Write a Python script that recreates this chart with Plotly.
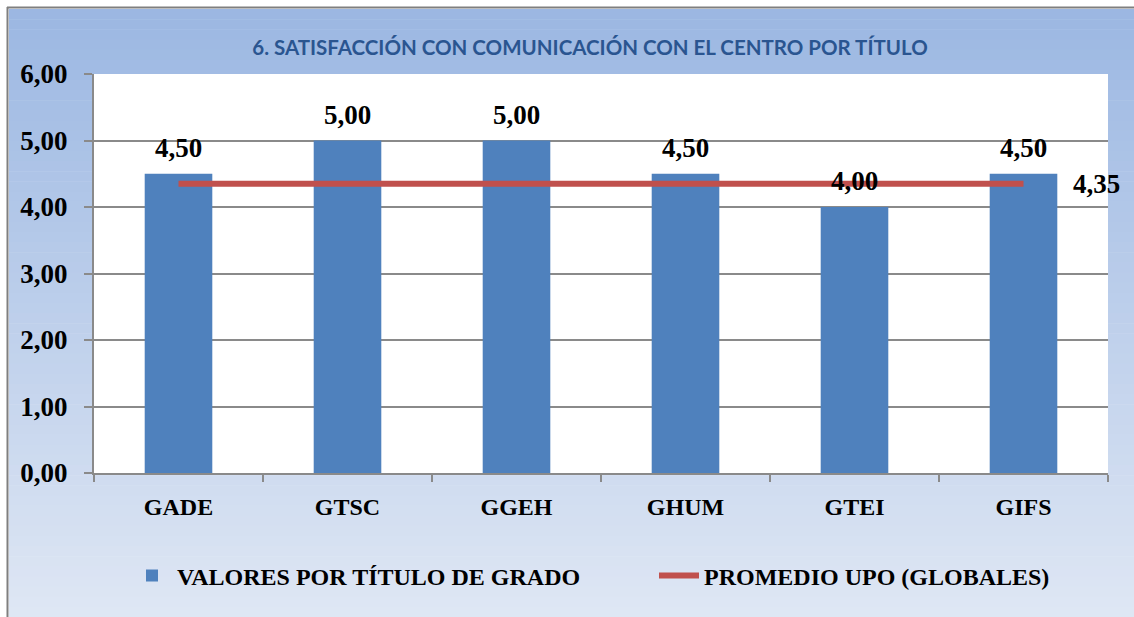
import plotly.graph_objects as go

# Data
titulos = ["GADE", "GTSC", "GGEH", "GHUM", "GTEI", "GIFS"]
valores = [4.50, 5.00, 5.00, 4.50, 4.00, 4.50]
promedio_upo = 4.35
tick_vals = [0, 1, 2, 3, 4, 5, 6]
tick_text = ["0,00", "1,00", "2,00", "3,00", "4,00", "5,00", "6,00"]

serie_barras = "VALORES POR TÍTULO DE GRADO"
serie_linea = "PROMEDIO UPO (GLOBALES)"
titulo = "6. SATISFACCIÓN CON COMUNICACIÓN CON EL CENTRO POR TÍTULO"


def fmt(v):
    return f"{v:.2f}".replace(".", ",")


# Canvas geometry (pixels)
W, H = 1134, 617
ML, MR, MT, MB = 94, 26, 74, 144
PW, PH = W - ML - MR, H - MT - MB


def px(x):
    return (x - ML) / PW


def py(y):
    return (H - MB - y) / PH


SERIF = "Liberation Serif"
GRID = "#8a8a8a"
LABEL_FONT = dict(family=SERIF, size=27, color="black", weight="bold")
LEGEND_FONT = dict(family=SERIF, size=24, color="black", weight="bold")

fig = go.Figure()

fig.add_trace(go.Bar(
    x=titulos, y=valores, name=serie_barras, legend="legend",
    marker=dict(color="#4F81BD", line=dict(width=0)),
))

fig.add_trace(go.Scatter(
    x=titulos, y=[promedio_upo] * len(titulos), name=serie_linea, legend="legend2",
    mode="lines", line=dict(color="#C0504D", width=6),
))

# value labels above each bar
annotations = []
for t, v in zip(titulos, valores):
    annotations.append(dict(
        x=t, y=v, text=fmt(v), showarrow=False,
        xanchor="center", yanchor="middle", yshift=26,
        font=LABEL_FONT,
    ))
# label for the global average, to the right of the line end
annotations.append(dict(
    x=titulos[-1], y=promedio_upo, text=fmt(promedio_upo), showarrow=False,
    xanchor="left", yanchor="middle", xshift=47,
    font=LABEL_FONT,
))

# vertical gradient background of the chart area + frame
shapes = []
top_c = (155, 183, 226)
bot_c = (223, 231, 244)
y0, y1 = 9, H
n = 60
step = (y1 - y0) / n
for i in range(n):
    f = (i + 0.5) / n
    c = tuple(round(a + (b - a) * f) for a, b in zip(top_c, bot_c))
    ya = y0 + i * step
    yb = y0 + (i + 1) * step + 0.6
    shapes.append(dict(
        type="rect", xref="paper", yref="paper", layer="below",
        x0=px(9), x1=px(W), y0=py(min(yb, H)), y1=py(ya),
        fillcolor=f"rgb{c}", line=dict(width=0),
    ))
shapes.append(dict(
    type="rect", xref="x domain", yref="y domain", layer="below",
    x0=0, x1=1, y0=0, y1=1, fillcolor="white", line=dict(width=0),
))
shapes.append(dict(
    type="line", xref="paper", yref="paper", layer="above",
    x0=px(7.5), x1=px(7.5), y0=py(7), y1=py(H),
    line=dict(color="#7f7f7f", width=2),
))
shapes.append(dict(
    type="line", xref="paper", yref="paper", layer="above",
    x0=px(7), x1=px(W), y0=py(7.5), y1=py(7.5),
    line=dict(color="#7f7f7f", width=2),
))

legend_common = dict(
    orientation="h", xanchor="left", y=py(576), yanchor="middle",
    bgcolor="rgba(0,0,0,0)", font=LEGEND_FONT, itemwidth=40,
)

fig.update_layout(
    width=W, height=H,
    margin=dict(l=ML, r=MR, t=MT, b=MB, pad=0, autoexpand=False),
    paper_bgcolor="white",
    plot_bgcolor="white",
    bargap=0.6,
    showlegend=True,
    title=dict(
        text=titulo, x=590 / W, xanchor="center", y=1 - 48 / H, yanchor="middle",
        font=dict(family="Lato", size=20.5, color="#2A5590", weight="bold"),
    ),
    legend=dict(x=px(127), **legend_common),
    legend2=dict(x=px(654), **legend_common),
    annotations=annotations,
    shapes=shapes,
)

fig.update_xaxes(
    type="category", range=[-0.5, len(titulos) - 0.5], autorange=False,
    showgrid=False,
    showline=True, linecolor=GRID, linewidth=2,
    ticks="outside", tickson="boundaries", ticklen=7, tickcolor=GRID, tickwidth=2,
    ticklabelstandoff=11,
    tickfont=dict(family=SERIF, size=24, color="black", weight="bold"),
)
fig.update_yaxes(
    range=[0, 6], autorange=False, tickvals=tick_vals, ticktext=tick_text,
    showgrid=True, gridcolor=GRID, gridwidth=1.5,
    showline=True, linecolor=GRID, linewidth=2, zeroline=False,
    ticks="outside", ticklen=8, tickcolor=GRID, tickwidth=2,
    ticklabelstandoff=11,
    tickfont=LABEL_FONT,
)

fig.write_html("out.html")
